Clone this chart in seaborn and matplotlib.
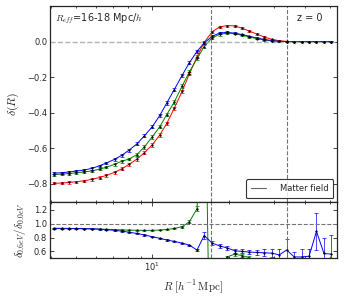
import matplotlib
matplotlib.use('Agg')
import matplotlib.pyplot as plt
import pandas as pd
import seaborn as sns

# radius grid [h^-1 Mpc]
R = [4.1, 4.4, 4.7, 5.0, 5.4, 5.8, 6.2, 6.6, 7.1, 7.6, 8.1, 8.7, 9.3, 10.0,
     10.7, 11.4, 12.2, 13.1, 14.0, 15.0, 16.0, 17.2, 18.4, 19.7, 21.1, 22.5,
     24.1, 25.8, 27.6, 29.5, 31.6, 33.8, 36.2, 38.7, 41.4, 44.3, 47.4, 50.7]

# void density profiles
delta_red = [-0.797, -0.795, -0.792, -0.788, -0.782, -0.774, -0.764, -0.752,
             -0.735, -0.714, -0.690, -0.660, -0.625, -0.580, -0.525, -0.460,
             -0.375, -0.280, -0.180, -0.085, -0.005, 0.055, 0.082, 0.090,
             0.088, 0.076, 0.059, 0.042, 0.026, 0.013, 0.005, 0.001, 0.0,
             0.0, 0.0, 0.0, 0.0, 0.0]
delta_green = [-0.748, -0.745, -0.742, -0.738, -0.733, -0.726, -0.717, -0.706,
               -0.690, -0.672, -0.660, -0.635, -0.592, -0.535, -0.478, -0.410,
               -0.340, -0.250, -0.170, -0.095, -0.028, 0.022, 0.040, 0.048,
               0.045, 0.036, 0.026, 0.017, 0.009, 0.004, 0.001, 0.0, 0.0,
               0.0, 0.0, 0.0, 0.0, 0.0]
delta_blue = [-0.740, -0.737, -0.733, -0.728, -0.722, -0.712, -0.698, -0.682,
              -0.662, -0.638, -0.610, -0.575, -0.530, -0.478, -0.415, -0.345,
              -0.270, -0.190, -0.118, -0.055, -0.008, 0.030, 0.048, 0.052,
              0.047, 0.040, 0.030, 0.020, 0.012, 0.006, 0.002, 0.0, -0.001,
              -0.001, -0.001, -0.001, -0.001, -0.001]
err_delta = [0.006, 0.006, 0.006, 0.006, 0.006, 0.007, 0.007, 0.007, 0.008,
             0.008, 0.008, 0.009, 0.009, 0.010, 0.010, 0.010, 0.010, 0.010,
             0.010, 0.009, 0.008, 0.007, 0.006, 0.006, 0.005, 0.005, 0.004,
             0.004, 0.004, 0.003, 0.003, 0.003, 0.003, 0.002, 0.002, 0.002,
             0.002, 0.002]

# ratio delta_0.6eV / delta_0.0eV
ratio_green = [0.930, 0.930, 0.930, 0.929, 0.928, 0.926, 0.923, 0.920, 0.916,
               0.912, 0.909, 0.906, 0.905, 0.905, 0.910, 0.918, 0.932, 0.958,
               1.030, 1.220, 4.0, -3.0, 0.30, 0.52, 0.56, 0.54, 0.51, 0.44,
               0.40, 0.38, 0.35, 0.30, 0.30, 0.28, 0.25, 0.20, 0.20, 0.20]
err_green = [0.005, 0.005, 0.005, 0.005, 0.005, 0.005, 0.005, 0.005, 0.005,
             0.005, 0.005, 0.006, 0.006, 0.006, 0.007, 0.008, 0.010, 0.012,
             0.020, 0.040, 0.3, 0.3, 0.05, 0.02, 0.02, 0.02, 0.02, 0.03, 0.03,
             0.03, 0.04, 0.04, 0.05, 0.05, 0.05, 0.05, 0.05, 0.05]
ratio_blue = [0.935, 0.934, 0.933, 0.932, 0.930, 0.927, 0.922, 0.915, 0.905,
              0.893, 0.878, 0.860, 0.838, 0.812, 0.790, 0.765, 0.745, 0.720,
              0.690, 0.620, 0.830, 0.720, 0.680, 0.650, 0.610, 0.600, 0.590,
              0.585, 0.580, 0.575, 0.550, 0.620, 0.520, 0.520, 0.530, 0.890,
              0.570, 0.560]
err_blue = [0.008, 0.008, 0.008, 0.008, 0.008, 0.008, 0.008, 0.008, 0.008,
            0.008, 0.008, 0.008, 0.008, 0.008, 0.008, 0.008, 0.008, 0.008,
            0.010, 0.020, 0.050, 0.030, 0.030, 0.030, 0.030, 0.030, 0.030,
            0.040, 0.050, 0.060, 0.080, 0.160, 0.070, 0.120, 0.100, 0.270,
            0.230, 0.280]

r_eff_lines = [17, 34]

sns.set_style('ticks')
plt.rcParams['font.family'] = ['DejaVu Sans']
plt.rcParams['mathtext.fontset'] = 'cm'
plt.rcParams['xtick.direction'] = 'in'
plt.rcParams['ytick.direction'] = 'in'

top = pd.DataFrame({
    'R': R * 3,
    'delta': delta_red + delta_green + delta_blue,
    'err': err_delta * 3,
    'model': ['red'] * len(R) + ['green'] * len(R) + ['blue'] * len(R),
})
bottom = pd.DataFrame({
    'R': R * 2,
    'ratio': ratio_green + ratio_blue,
    'err': err_green + err_blue,
    'model': ['green'] * len(R) + ['blue'] * len(R),
})
pal = {'red': 'red', 'green': 'green', 'blue': 'blue'}

fig = plt.figure(figsize=(3.46, 2.99), dpi=100)
ax1 = fig.add_axes([0.1445, 0.3254, 0.8286, 0.6545])
ax2 = fig.add_axes([0.1445, 0.1361, 0.8286, 0.1893], sharex=ax1)

sns.lineplot(data=top, x='R', y='delta', hue='model', palette=pal,
             ax=ax1, legend=False, lw=0.7, sort=False)
for name, g in top.groupby('model', sort=False):
    ax1.errorbar(g['R'], g['delta'], yerr=g['err'], fmt='.', ms=1.3,
                 mfc='k', mec='k', ecolor=pal[name], elinewidth=0.5,
                 capsize=1.5, capthick=0.5)

sns.lineplot(data=bottom, x='R', y='ratio', hue='model', palette=pal,
             ax=ax2, legend=False, lw=0.7, sort=False)
for name, g in bottom.groupby('model', sort=False):
    ax2.errorbar(g['R'], g['ratio'], yerr=g['err'], fmt='.', ms=1.3,
                 mfc='k', mec='k', ecolor=pal[name], elinewidth=0.5,
                 capsize=1.5, capthick=0.5)

ax1.axhline(0, color='0.7', ls='--', lw=1)
ax2.axhline(1, color='0.45', ls='--', lw=0.8)
for r in r_eff_lines:
    ax1.axvline(r, color='0.45', ls='--', lw=0.8)
    ax2.axvline(r, color='0.45', ls='--', lw=0.8)

ax1.plot([], [], color='0.4', lw=0.8, label='Matter field')
leg = ax1.legend(loc='lower right', fontsize=6, frameon=True, fancybox=True,
                 handlelength=1.8, handletextpad=1.6, borderpad=0.6,
                 borderaxespad=0.4)
leg.get_frame().set_edgecolor('k')
leg.get_frame().set_linewidth(0.8)

ax1.set_xscale('log')
ax1.set_xlim(3.955, 53.2)
ax1.set_ylim(-0.9, 0.2)
ax2.set_ylim(0.5, 1.32)
ax1.set_yticks([-0.8, -0.6, -0.4, -0.2, 0.0])
ax2.set_yticks([0.6, 0.8, 1.0, 1.2])

for ax in (ax1, ax2):
    ax.tick_params(which='both', top=True, right=True, labelsize=6,
                   width=0.6, pad=2)
    ax.tick_params(which='major', length=3)
    ax.tick_params(which='minor', length=1.5)
    for s in ax.spines.values():
        s.set_linewidth(0.9)
ax1.tick_params(labelbottom=False)

ax1.set_xlabel('')
ax1.set_ylabel(r'$\delta(R)$', fontsize=8.5)
ax2.set_ylabel(r'$\delta_{0.6eV}/\delta_{0.0eV}$', fontsize=8)
ax2.set_xlabel(r'$R\ [h^{-1}\,\mathrm{Mpc}]$', fontsize=8)

ax1.text(0.017, 0.97, r'$R_{eff}$=16-18 Mpc/$h$', transform=ax1.transAxes,
         ha='left', va='top', fontsize=7)
ax1.text(0.952, 0.966, 'z = 0', transform=ax1.transAxes,
         ha='right', va='top', fontsize=7)

fig.savefig('out.png', dpi=100)
